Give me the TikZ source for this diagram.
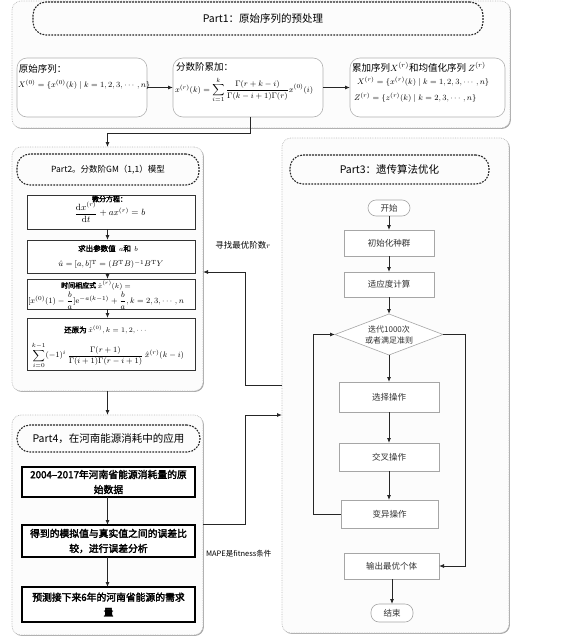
\documentclass[tikz,border=0pt]{standalone}
\usepackage{amsmath}
\usepackage{fontspec}
\newfontfamily\cjk{Noto Sans CJK SC}[AutoFakeBold=2.5]
\usetikzlibrary{arrows.meta,shapes.geometric,calc,shadows}
\begin{document}
\begin{tikzpicture}[x=1pt,y=-1pt,
 every node/.style={inner sep=0pt, outer sep=0pt},
 outer/.style={draw=gray!55, densely dotted, line width=0.7pt, rounded corners=9pt, fill=gray!2,
   drop shadow={shadow xshift=0.9pt, shadow yshift=-0.9pt, fill=gray!70, opacity=1}},
 title/.style={draw=black!85, line width=1.1pt, dash pattern=on 1.8pt off 1.2pt, rounded corners=13pt, font=\cjk\fontsize{10.5}{12}\selectfont},
 p1box/.style={draw=gray!60, line width=0.6pt, rounded corners=10pt, fill=white},
 eqbox/.style={draw=black!80, line width=1pt, fill=white},
 appbox/.style={draw=black, line width=1.4pt, fill=white, align=center, font=\cjk\bfseries\fontsize{9.8}{15}\selectfont},
 gabox/.style={draw=gray!70, line width=0.6pt, fill=white, font=\cjk\fontsize{8.5}{11}\selectfont, text=black!80},
 arr/.style={-{Latex[length=5pt,width=4pt]}, draw=black!85, line width=0.8pt},
 txt/.style={font=\cjk\fontsize{9.5}{11}\selectfont},
 small/.style={font=\cjk\bfseries\fontsize{7}{8}\selectfont},
 meq/.style={font=\fontsize{8.5}{10}\selectfont}
]
\useasboundingbox (0,0) rectangle (569,643);

% ---------- Part 1 ----------
\node[outer, minimum width=498, minimum height=127] (p1) at (261,64.5) {};
\node[title, minimum width=450, minimum height=33] (t1) at (258,18.5) {\hspace*{10pt}Part1：原始序列的预处理};
\node[p1box, minimum width=130, minimum height=59] (b1) at (82,87.5) {};
\node[p1box, minimum width=150, minimum height=59] (b2) at (248,87.5) {};
\node[p1box, minimum width=155, minimum height=59] (b3) at (427.5,87.5) {};
\node[txt, anchor=west] (b1a) at (19,69) {原始序列：};
\node[meq, font=\fontsize{8.2}{10}\selectfont, anchor=west] (b1b) at (18,85) {$X^{(0)}=\{x^{(0)}(k)\mid k=1,2,3,\cdots,n\}$};
\node[txt, anchor=west] (b2a) at (176,67) {分数阶累加：};
\node[meq, anchor=west] (b2b) at (175,90) {$x^{(r)}(k)=\displaystyle\sum_{i=1}^{k}\frac{\Gamma(r+k-i)}{\Gamma(k-i+1)\Gamma(r)}x^{(0)}(i)$};
\node[txt, anchor=west] (b3a) at (352,67) {累加序列$X^{(r)}$和均值化序列\ $Z^{(r)}$};
\node[meq, anchor=west] (b3b) at (357,82) {$X^{(r)}=\{x^{(r)}(k)\mid k=1,2,3,\cdots,n\}$};
\node[meq, anchor=west] (b3c) at (354,98) {$Z^{(r)}=\{z^{(r)}(k)\mid k=2,3,\cdots,n\}$};
\draw[arr] (b1) -- (b2);
\draw[arr] (b2) -- (b3);

% ---------- Part 2 ----------
\node[outer, minimum width=191, minimum height=244] (p2) at (107.5,269) {};
\node[title, minimum width=182, minimum height=31, font=\cjk\fontsize{8.5}{10}\selectfont] (t2) at (108,169.5) {Part2。分数阶GM（1,1）模型};
\node[eqbox, minimum width=168, minimum height=34] (e1) at (111,212) {};
\node[eqbox, minimum width=168, minimum height=33] (e2) at (111,256.5) {};
\node[eqbox, minimum width=168, minimum height=30] (e3) at (111,294) {};
\node[eqbox, minimum width=168, minimum height=52] (e4) at (111,344) {};
\node[small, anchor=west] (e1a) at (92,199) {微分方程：};
\node[meq, font=\fontsize{9}{10}\selectfont] (e1b) at (110,212) {$\dfrac{\mathrm{d}x^{(r)}}{\mathrm{d}t}+ax^{(r)}=b$};
\node[small, font=\cjk\bfseries\fontsize{7.5}{9}\selectfont] (e2a) at (108,248.5) {求出参数值\ \ $a$和\ \ $b$};
\node[meq] (e2b) at (111,264.5) {$\hat{u}=[a,b]^{\mathrm{T}}=(B^{\mathrm{T}}B)^{-1}B^{\mathrm{T}}Y$};
\node[small] (e3a) at (96,285.5) {时间相应式\ $\hat{x}^{(r)}(k)=$};
\node[meq, font=\fontsize{8}{10}\selectfont] (e3b) at (106,300.5) {$[x^{(0)}(1)-\dfrac{b}{a}]\mathrm{e}^{-a(k-1)}+\dfrac{b}{a},k=2,3,\cdots,n$};
\node[small, font=\cjk\bfseries\fontsize{7.5}{9}\selectfont] (e4a) at (106,330) {还原为\ $\hat{x}^{(0)},k=1,2,\cdots$};
\node[meq, font=\fontsize{8}{10}\selectfont] (e4b) at (108,355.5) {$\displaystyle\sum_{i=0}^{k-1}(-1)^i\,\frac{\Gamma(r+1)}{\Gamma(i+1)\Gamma(r-i+1)}\,\hat{x}^{(r)}(k-i)$};
\draw[arr] (e1.south -| p2.center) -- (e2.north -| p2.center);
\draw[arr] (e2.south -| p2.center) -- (e3.north -| p2.center);
\draw[arr] (e3.south -| p2.center) -- (e4.north -| p2.center);

% Part1 -> Part2
\coordinate (j1) at (107.5,133);
\draw[arr] (b2.south -| 250,0) |- (j1) -- (p2.north);

% ---------- Part 4 ----------
\node[outer, minimum width=191, minimum height=220] (p4) at (107.5,525) {};
\node[title, minimum width=183, minimum height=27] (t4) at (108.5,438.5) {Part4，在河南能源消耗中的应用};
\node[appbox, minimum width=173, minimum height=30] (a1) at (108.5,482) {2004–2017年河南省能源消耗量的原\\始数据};
\node[appbox, minimum width=173, minimum height=32] (a2) at (108.5,541) {得到的模拟值与真实值之间的误差比\\较，进行误差分析};
\node[appbox, minimum width=173, minimum height=35] (a3) at (108.5,604.5) {预测接下来6年的河南省能源的需求\\量};
\draw[arr] (p2.south) -- (p4.north);
\draw[arr] (a1.south -| p4.center) -- (a2.north -| p4.center);
\draw[arr] (a2.south -| p4.center) -- (a3.north -| p4.center);

% ---------- Part 3 ----------
\node[outer, minimum width=227, minimum height=495] (p3) at (395.5,385.5) {};
\node[title, minimum width=199, minimum height=29] (t3) at (389.5,169.5) {Part3：遗传算法优化};
\node[gabox, rounded corners=8pt, minimum width=42, minimum height=16] (s0) at (389,208) {开始};
\node[gabox, minimum width=90, minimum height=26] (g1) at (389,243) {初始化种群};
\node[gabox, minimum width=90, minimum height=25] (g2) at (389,284.5) {适应度计算};
\node[diamond, draw=gray!70, line width=0.6pt, fill=white, minimum width=108, minimum height=41] (dia) at (389,334.5) {};
\node[font=\cjk\fontsize{8}{11}\selectfont, text=black!80, align=center] (diat) at (dia.center) {迭代1000次\\或者满足准则};
\node[gabox, minimum width=100, minimum height=30] (g3) at (389,397) {选择操作};
\node[gabox, minimum width=100, minimum height=28] (g4) at (389,457) {交叉操作};
\node[gabox, minimum width=97, minimum height=28] (g5) at (389.5,514) {变异操作};
\node[gabox, minimum width=95, minimum height=26] (g6) at (391.5,566) {输出最优个体};
\node[gabox, rounded corners=8pt, minimum width=42, minimum height=18] (s1) at (392,613) {结束};
\draw[arr] (s0) -- (g1);
\draw[arr] (g1) -- (g2);
\draw[arr] (g2) -- (dia);
\draw[arr] (dia) -- (g3);
\draw[arr] (g3) -- (g4);
\draw[arr] (g4.south -| g3.center) -- (g5.north -| g3.center);
\draw[arr] (g6.south -| s1.center) -- (s1.north);
\coordinate (lp) at (313,514);
\draw[arr] (g5.west) -- (lp) |- (dia.west);
\coordinate (rp) at (465,334.5);
\draw[arr] (dia.east) -- (rp) |- (g6.east);

% ---------- cross connectors ----------
\coordinate (c1) at (245,385);
\coordinate (c2) at (245,272);
\draw[arr] (p3.west |- c1) -- (c1) -- (c2) -- (p2.east |- c2);
\coordinate (c3) at (245,524);
\coordinate (c4) at (245,415);
\draw[arr] (p4.east |- c3) -- (c3) -- (c4) -- (p3.west |- c4);
\node[font=\cjk\fontsize{8.5}{10}\selectfont] (lab1) at (243,245) {寻找最优阶数$r$};
\node[font=\cjk\fontsize{7.5}{9}\selectfont, anchor=west] (lab2) at (206,554) {MAPE是fitness条件};
\end{tikzpicture}
\end{document}
